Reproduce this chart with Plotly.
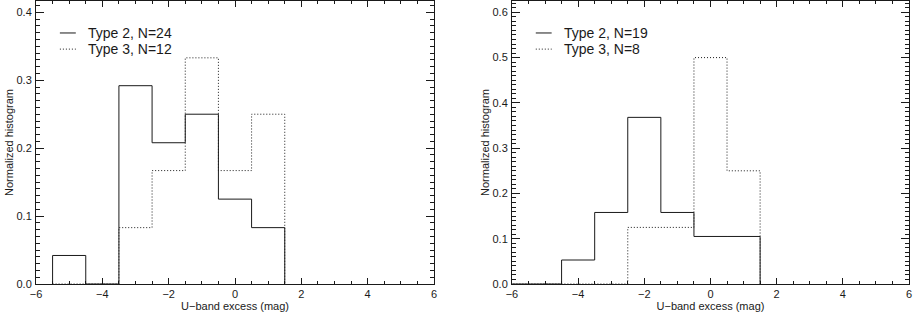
import plotly.graph_objects as go
from plotly.subplots import make_subplots

# bin centres (bin width 1 mag) and normalized histogram values
left_centers = [-5, -4, -3, -2, -1, 0, 1]
left_type2 = [0.042, 0.0, 0.292, 0.208, 0.250, 0.125, 0.083]
left_type3 = [0.0, 0.0, 0.083, 0.167, 0.333, 0.167, 0.250]

right_centers = [-6, -5, -4, -3, -2, -1, 0, 1]
right_type2 = [0.0, 0.0, 0.053, 0.158, 0.368, 0.158, 0.105, 0.105]
right_type3 = [0.0, 0.0, 0.0, 0.0, 0.125, 0.125, 0.500, 0.250]

left_names = ["Type 2, N=24", "Type 3, N=12"]
right_names = ["Type 2, N=19", "Type 3, N=8"]

FONT = "Liberation Sans, Arial, sans-serif"
INK = "#1a1a1a"
SOLID = dict(color=INK, width=1)
DOTTED = dict(color=INK, width=1, dash="1px,2px")


def step_xy(centers, values):
    # outline of a histogram: up at the first edge, steps, down at the last edge
    xs = [centers[0] - 0.5]
    ys = [0.0]
    for c, v in zip(centers, values):
        xs.append(c - 0.5)
        ys.append(v)
    xs.append(centers[-1] + 0.5)
    ys.append(values[-1])
    xs.append(centers[-1] + 0.5)
    ys.append(0.0)
    return xs, ys


fig = make_subplots(rows=1, cols=2)

panels = [
    (1, "x", left_centers, left_type2, left_type3, left_names),
    (2, "x2", right_centers, right_type2, right_type3, right_names),
]
for col, xname, centers, t2, t3, names in panels:
    x2, y2 = step_xy(centers, t2)
    x3, y3 = step_xy(centers, t3)
    fig.add_trace(go.Scatter(x=x2, y=y2, mode="lines", line_shape="hv", name=names[0],
                             line=SOLID, showlegend=False), row=1, col=col)
    fig.add_trace(go.Scatter(x=x3, y=y3, mode="lines", line_shape="hv", name=names[1],
                             line=DOTTED, showlegend=False), row=1, col=col)

    # hand-made legend in the upper left of each panel (short IDL-style line samples)
    yname = xname.replace("x", "y")
    for i, (name, style) in enumerate(zip(names, [SOLID, DOTTED])):
        yy = 0.887 - i * 0.057
        fig.add_shape(type="line", xref=xname + " domain", yref=yname + " domain",
                      x0=0.060, x1=0.100, y0=yy, y1=yy, line=style)
        fig.add_annotation(xref=xname + " domain", yref=yname + " domain", x=0.125, y=yy,
                           text=name, showarrow=False, xanchor="left", yanchor="middle",
                           font=dict(size=14, color=INK))

xax = dict(range=[-6, 6], dtick=2, tick0=-6, ticks="inside", ticklen=6, tickcolor=INK,
           showline=True, linecolor=INK, linewidth=1, mirror="ticks", showgrid=False, zeroline=False,
           minor=dict(dtick=0.5, ticks="inside", ticklen=3, tickcolor=INK, showgrid=False),
           title=dict(text="U\u2212band excess (mag)", font=dict(size=11), standoff=0),
           tickfont=dict(size=11), automargin=False)
yax = dict(dtick=0.1, tick0=0, tickformat=".1f", ticks="inside", ticklen=8, tickcolor=INK,
           showline=True, linecolor=INK, linewidth=1, mirror="ticks", showgrid=False, zeroline=False,
           minor=dict(dtick=0.01, ticks="inside", ticklen=4, tickcolor=INK, showgrid=False),
           title=dict(text="Normalized histogram", font=dict(size=11), standoff=0),
           tickfont=dict(size=11), ticklabelstandoff=1, automargin=False)

fig.update_xaxes(**xax)
fig.update_yaxes(**yax)
fig.update_xaxes(domain=[0, 0.4559], row=1, col=1)
fig.update_xaxes(domain=[0.5452, 1.0], row=1, col=2)
fig.update_yaxes(range=[0, 0.4167], row=1, col=1)
fig.update_yaxes(range=[0, 0.625], row=1, col=2)

fig.update_layout(
    width=913, height=313,
    margin=dict(l=36, r=4, t=1, b=29),
    paper_bgcolor="white", plot_bgcolor="white",
    font=dict(family=FONT, color=INK, size=11),
    showlegend=False,
)

# drop the browser's default body margin so the figure sits at the window corner
fig.write_html("out.html", config={"displayModeBar": False},
               post_script="document.body.style.margin = '0';")
